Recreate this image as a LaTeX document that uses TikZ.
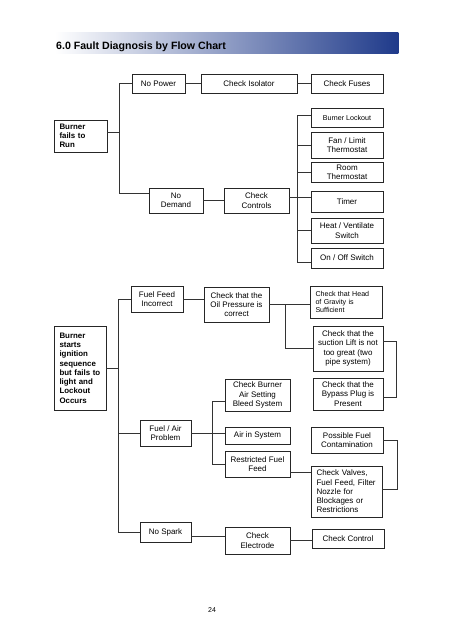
\documentclass[tikz,border=0pt]{standalone}
\usepackage{fontspec}
\setmainfont{Liberation Sans}
\usetikzlibrary{calc}
\definecolor{barblue}{RGB}{31,58,138}
\definecolor{barmid}{RGB}{185,189,204}
\begin{document}
\begin{tikzpicture}[x=1pt,y=-1pt,
  box/.style={draw=black!85, line width=0.7pt, inner sep=0pt, align=center,
    font=\fontsize{8}{9.3}\selectfont},
  sz/.style 2 args={minimum width=#1pt, minimum height=#2pt},
  bb/.style={box, font=\bfseries\fontsize{7.9}{9.3}\selectfont, align=left,
    inner xsep=5.5pt, text width=#1pt},
  lb/.style={box, align=left, inner xsep=5.5pt, text width=#1pt},
  small/.style={font=\fontsize{7.1}{8}\selectfont},
  ln/.style={draw=black!80, line width=0.7pt}]
\path[fill=white] (0,0) rectangle (452,640);
\shade[left color=white, middle color=barmid, right color=barblue] (55,32.7) rectangle (398.3,53.7);
\node[anchor=base west, inner sep=0pt, font=\bfseries\fontsize{10.6}{12}\selectfont] (title) at (56,49) {6.0 Fault Diagnosis by Flow Chart};

% ---- section 1
\node[bb=42, sz={53}{32}] (bfr) at (80.5,136) {Burner\\fails to\\Run};
\node[box, sz={53}{19}] (np) at (158.5,83.5) {No Power};
\node[box, sz={96}{19}] (ci) at (249,83.5) {Check Isolator};
\node[box, sz={72}{19}] (cf) at (347,83.5) {Check Fuses};
\node[box, sz={54}{25}] (nd) at (176,200.5) {No\\Demand};
\node[box, sz={65}{25}] (cc) at (256.5,200.5) {Check\\Controls};
\node[box, small, sz={72}{19}] (bl) at (347,117.5) {Burner Lockout};
\node[box, sz={72}{26}] (fl) at (347,145) {Fan / Limit\\Thermostat};
\node[box, sz={72}{20}] (rt) at (347,172) {Room\\Thermostat};
\node[box, sz={72}{21}] (ti) at (347,201.5) {Timer};
\node[box, sz={72}{25}] (hv) at (347,230.5) {Heat / Ventilate\\Switch};
\node[box, sz={72}{20}] (oo) at (347,258) {On / Off Switch};

\coordinate (t1) at (119.3,0);
\coordinate (t2) at (297.3,0);
\draw[ln] ([yshift=4pt]bfr.east) -- ([yshift=4pt]bfr.east -| t1);
\draw[ln] (np.west) -- (np.west -| t1) -- ([yshift=7pt]nd.west -| t1) -- ([yshift=7pt]nd.west);
\draw[ln] (np.east) -- (ci.west);
\draw[ln] (ci.east) -- (cf.west);
\draw[ln] (nd.east) -- (cc.west);
\draw[ln] ([yshift=2.5pt]bl.west) -- ([yshift=2.5pt]bl.west -| t2) -- ([yshift=-4.5pt]oo.west -| t2) -- ([yshift=-4.5pt]oo.west);
\draw[ln] (fl.west) -- (fl.west -| t2);
\draw[ln] (rt.west) -- (rt.west -| t2);
\draw[ln] ([yshift=3.5pt]cc.east) -- ([yshift=3.5pt]cc.east -| ti.west);
\draw[ln] (hv.west) -- (hv.west -| t2);

% ---- section 2
\node[bb=41, sz={52}{84}] (bs) at (80,368) {Burner\\starts\\ignition\\sequence\\but fails to\\light and\\Lockout\\Occurs};
\node[box, sz={52}{26}] (ffi) at (157,299) {Fuel Feed\\Incorrect};
\node[box, sz={65}{35}] (cop) at (236.5,304.5) {Check that the\\Oil Pressure is\\correct};
\node[lb=61, small, sz={72}{32}] (chg) at (346,302) {Check that Head\\of Gravity is\\Sufficient};
\node[box, sz={70}{45}] (csl) at (348,348.5) {Check that the\\suction Lift is not\\too great (two\\pipe system)};
\node[box, sz={70}{32}] (cbp) at (348,394) {Check that the\\Bypass Plug is\\Present};
\node[box, sz={65}{32}] (cba) at (257.5,395) {Check Burner\\Air Setting\\Bleed System};
\node[box, sz={51}{26}] (fap) at (165.5,433) {Fuel / Air\\Problem};
\node[box, sz={65}{17}] (ais) at (257.5,435.5) {Air in System};
\node[box, sz={65}{26}] (rff) at (257.5,464) {Restricted Fuel\\Feed};
\node[box, sz={72}{26}] (pfc) at (347,440) {Possible Fuel\\Contamination};
\node[lb=60, sz={71}{51}] (cvf) at (346.5,491.5) {Check Valves,\\Fuel Feed, Filter\\Nozzle for\\Blockages or\\Restrictions};
\node[box, sz={51}{20}] (nsp) at (165.5,532) {No Spark};
\node[box, sz={65}{27}] (cel) at (257.5,540.5) {Check\\Electrode};
\node[box, sz={72}{19}] (ccl) at (348,538.5) {Check Control};

\coordinate (t3) at (118.7,0);
\coordinate (t4) at (285.3,0);
\coordinate (t5) at (212.3,0);
\draw[ln] (bs.east) -- (bs.east -| t3);
\draw[ln] (ffi.west) -- (ffi.west -| t3) -- (nsp.west -| t3) -- (nsp.west);
\draw[ln] (fap.west) -- (fap.west -| t3);
\draw[ln] (ffi.east) -- (ffi.east -| cop.west);
\draw[ln] (cop.east) -- (cop.east -| chg.west);
\draw[ln] (cop.east -| t4) |- (csl.west);
\draw[ln] ([yshift=7pt]csl.east) -- ++(13,0) |- ([yshift=-3pt]cbp.east);
\draw[ln] (fap.east) -- (fap.east -| ais.west);
\draw[ln] ([yshift=-6pt]cba.west) -- ([yshift=-6pt]cba.west -| t5) -- (rff.west -| t5) -- (rff.west);
\draw[ln] ([yshift=-8pt]rff.east) -- ([yshift=-8pt]rff.east -| cvf.west);
\draw[ln] (pfc.east) -- ++(13.6,0) |- ([yshift=2pt]cvf.east);
\draw[ln] ([yshift=-4pt]nsp.east) -- ([yshift=-4pt]nsp.east -| cel.west);
\draw[ln] (cel.east) -- (cel.east -| ccl.west);

\node[font=\fontsize{7}{8}\selectfont, inner sep=0pt] (pg) at (212,610) {24};
\end{tikzpicture}
\end{document}
